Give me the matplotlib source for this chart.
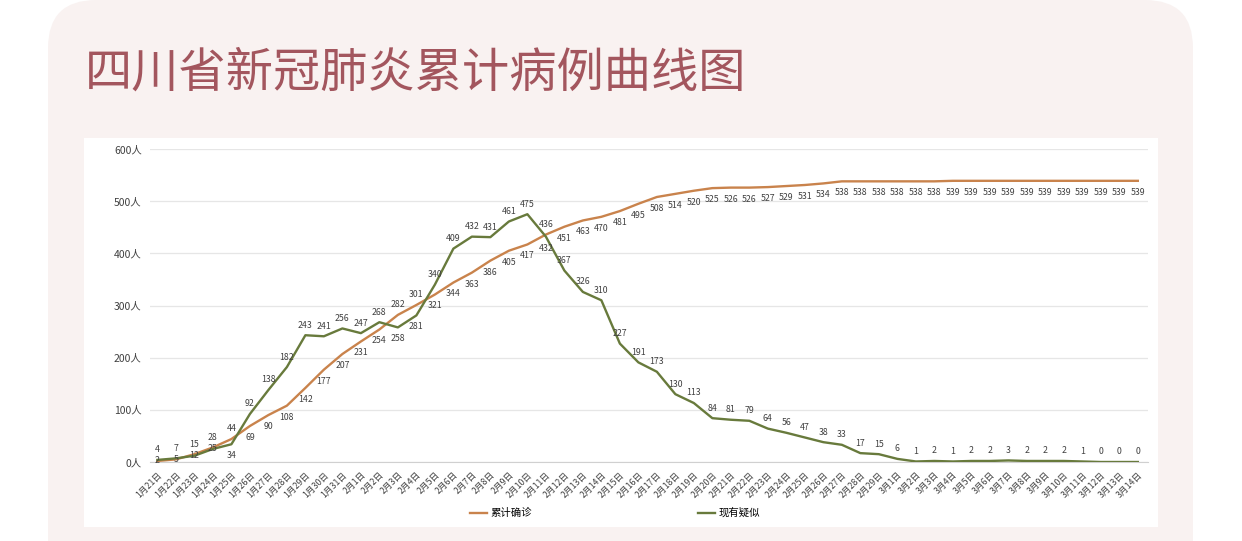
import matplotlib
matplotlib.use("Agg")
import matplotlib.pyplot as plt
from matplotlib.patches import FancyBboxPatch, Rectangle
from matplotlib.transforms import IdentityTransform

plt.rcParams['font.family'] = ['Noto Sans CJK SC', 'DejaVu Sans']

# dates 1/21 .. 3/14
dates = ([f"1月{d}日" for d in range(21, 32)]
         + [f"2月{d}日" for d in range(1, 30)]
         + [f"3月{d}日" for d in range(1, 15)])

confirmed = [2, 5, 15, 28, 44, 69, 90, 108, 142, 177, 207,
             231, 254, 282, 301, 321, 344, 363, 386, 405, 417, 436, 451, 463,
             470, 481, 495, 508, 514, 520, 525, 526, 526, 527, 529, 531, 534,
             538, 538, 538,
             538, 538, 538, 539, 539, 539, 539, 539, 539, 539, 539, 539, 539, 539]

suspected = [4, 7, 12, 25, 34, 92, 138, 182, 243, 241, 256,
             247, 268, 258, 281, 340, 409, 432, 431, 461, 475, 432, 367, 326,
             310, 227, 191, 173, 130, 113, 84, 81, 79, 64, 56, 47, 38, 33, 17, 15,
             6, 1, 2, 1, 2, 2, 3, 2, 2, 2, 1, 0, 0, 0]

yticks = [0, 100, 200, 300, 400, 500, 600]
series_names = ["累计确诊", "现有疑似"]

orange = "#c9834c"
green = "#687a3c"
W, H = 1242, 541

fig = plt.figure(figsize=(W / 100, H / 100), dpi=100)
fig.patch.set_facecolor("white")

# pink rounded panel
panel = FancyBboxPatch((48, -120), 1145, H + 120, boxstyle="round,pad=0,rounding_size=48",
                       transform=IdentityTransform(), facecolor="#f9f2f1", edgecolor="none",
                       zorder=-3)
fig.patches.append(panel)
# white chart area
area = Rectangle((84, H - 527), 1074, 389, transform=IdentityTransform(),
                 facecolor="white", edgecolor="none", zorder=-2)
fig.patches.append(area)

fig.text(85 / W, 1 - 73 / H, "四川省新冠肺炎累计病例曲线图", fontsize=34,
         color="#a3565e", ha="left", va="center")

ax = fig.add_axes([150 / W, (H - 462) / H, 998 / W, 313 / H])
ax.set_facecolor("none")
x = list(range(len(dates)))
l1, = ax.plot(x, confirmed, color=orange, lw=1.7, zorder=3)
l2, = ax.plot(x, suspected, color=green, lw=1.7, zorder=3)

ax.set_xlim(-0.4, len(dates) - 0.45)
ax.set_ylim(0, 600)
ax.set_yticks(yticks)
ax.set_yticklabels([f"{v}人" for v in yticks], fontsize=7.5, color="#404040")
ax.set_xticks(x)
ax.set_xticklabels(dates, rotation=45, ha="right", va="top", rotation_mode="anchor",
                   fontsize=6.3, color="#404040")
ax.tick_params(length=0, pad=6)
ax.grid(axis="y", color="#e6e6e6", lw=0.9)
ax.set_axisbelow(True)
for s in ["top", "right", "left"]:
    ax.spines[s].set_visible(False)
ax.spines["bottom"].set_color("#d0d0d0")

# data labels: when the two lines are close put the larger above
for i in x:
    c, s = confirmed[i], suspected[i]
    if abs(c - s) < 26:
        c_up = c >= s
    else:
        c_up = False
    for v, up in ((c, c_up), (s, not c_up)):
        if up:
            off, va = 4, "bottom"
        elif v < 30:
            off, va = 0, "center"
        else:
            off, va = -5, "top"
        ax.annotate(str(v), (i, v), xytext=(0, off), textcoords="offset points",
                    ha="center", va=va, fontsize=6.3, color="#404040", zorder=4)

fig.legend([l1, l2], series_names, loc="center", bbox_to_anchor=(615 / W, 1 - 513 / H),
           ncol=2, frameon=False, fontsize=7.5, handlelength=1.6, columnspacing=16,
           handletextpad=0.3)

fig.savefig("out.png", dpi=100, facecolor=fig.get_facecolor())
